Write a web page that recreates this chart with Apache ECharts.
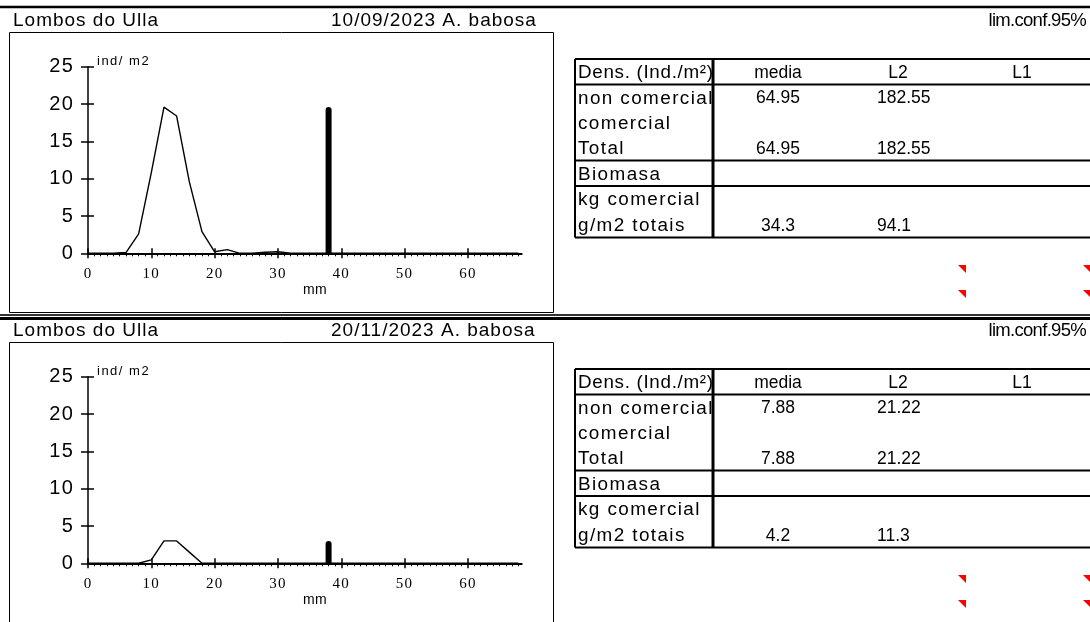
<!DOCTYPE html>
<html>
<head>
<meta charset="utf-8">
<title>Lombos do Ulla - A. babosa</title>
<script src="https://cdn.jsdelivr.net/npm/echarts@6/dist/echarts.min.js"></script>
<style>
  html, body { margin: 0; padding: 0; background: #fff; }
  #chart { width: 1090px; height: 622px; }
</style>
</head>
<body>
<div id="chart"></div>
<script>
// Size classes (mm)
const sizes = [0, 2, 4, 6, 8, 10, 12, 14, 16, 18, 20, 22, 24, 26, 28, 30, 32, 34,
               36, 38, 40, 42, 44, 46, 48, 50, 52, 54, 56, 58, 60, 62, 64, 66, 68];

// Density per size class (ind/m2)
const densSep = [0, 0, 0, 0.1, 2.6, 10.8, 19.6, 18.4, 9.6, 2.9, 0.2, 0.5, 0, 0, 0.15, 0.2, 0, 0,
                 0, 0, 0, 0, 0, 0, 0, 0, 0, 0, 0, 0, 0, 0, 0, 0, 0];
const densNov = [0, 0, 0, 0, 0, 0.45, 3.0, 3.0, 1.5, 0, 0, 0, 0, 0, 0, 0, 0, 0,
                 0, 0, 0, 0, 0, 0, 0, 0, 0, 0, 0, 0, 0, 0, 0, 0, 0];

// Commercial size mark
const commercialSize = 38;
const markSep = 19.6;
const markNov = 3.0;

// Axis ticks
const xTicks = [0, 10, 20, 30, 40, 50, 60];
const yTicks = [0, 5, 10, 15, 20, 25];

// Summary table
const headerCols = ['media', 'L2', 'L1'];
const rowLabels = ['Dens. (Ind./m²)', 'non comercial', 'comercial', 'Total', 'Biomasa', 'kg comercial', 'g/m2 totais'];
const mediaSep = [null, 64.95, null, 64.95, null, null, 34.3];
const l2Sep    = [null, 182.55, null, 182.55, null, null, 94.1];
const mediaNov = [null, 7.88, null, 7.88, null, null, 4.2];
const l2Nov    = [null, 21.22, null, 21.22, null, null, 11.3];

const panelTitles = ['Lombos do Ulla', 'Lombos do Ulla'];
const panelDates = ['10/09/2023 A. babosa', '20/11/2023 A. babosa'];
const confLabel = 'lim.conf.95%';

const SANS = 'Liberation Sans, Arial, sans-serif';
const SERIF = 'Liberation Serif, Times New Roman, serif';
const PANEL_STEP = 310;

// Text classes: font size (px) -> extra tracking between glyphs (px)
const FS_TITLE = 19, FS_CONF = 18.5, FS_LABEL = 18.9, FS_HEAD = 18.8, FS_NUM = 17.5,
      FS_YLAB = 20, FS_XLAB = 15, FS_UNIT = 13, FS_MM = 14;
const TRACKING = {};
TRACKING[FS_TITLE] = 1; TRACKING[FS_CONF] = -0.7; TRACKING[FS_LABEL] = 1.4; TRACKING[FS_HEAD] = 0.7;
TRACKING[FS_NUM] = 0; TRACKING[FS_YLAB] = 1.2; TRACKING[FS_XLAB] = 1.2; TRACKING[FS_UNIT] = 1.5;
TRACKING[FS_MM] = 0.3;

(function () {
  const proto = CanvasRenderingContext2D.prototype;
  const fill = proto.fillText;
  proto.fillText = function (text, x, y, maxWidth) {
    if ('letterSpacing' in this) {
      const m = /(\d+(?:\.\d+)?)px/.exec(this.font);
      const t = m ? TRACKING[parseFloat(m[1])] : 0;
      this.letterSpacing = (t || 0) + 'px';
    }
    return maxWidth === undefined ? fill.call(this, text, x, y) : fill.call(this, text, x, y, maxWidth);
  };
})();

function txt(x, y, s, size, align, family) {
  return {
    type: 'text', x: x, y: y, silent: true, z: 10,
    style: {
      text: s, fill: '#000', fontSize: size, fontFamily: family || SANS,
      textAlign: align || 'left', textVerticalAlign: 'middle', verticalAlign: 'middle'
    }
  };
}
function seg(x1, y1, x2, y2, w, color) {
  return {
    type: 'line', silent: true, z: 20,
    shape: { x1: x1, y1: y1, x2: x2, y2: y2 },
    style: { stroke: color || '#000', lineWidth: w }
  };
}
function corner(x, y) {
  return {
    type: 'polygon', silent: true,
    shape: { points: [[x, y], [x + 8, y], [x + 8, y + 8]] },
    style: { fill: '#ff0000' }
  };
}

function panelGraphic(p, media, l2) {
  const o = p * PANEL_STEP;
  const g = [];
  // header strip
  g.push(txt(13, 20.5 + o, panelTitles[p], FS_TITLE));
  g.push(txt(331, 20.5 + o, panelDates[p], FS_TITLE));
  g.push(txt(1086, 20.5 + o, confLabel, FS_CONF, 'right'));
  // chart frame
  g.push({
    type: 'rect', silent: true,
    shape: { x: 9.5, y: 32.5 + o, width: 544, height: 280 },
    style: { fill: 'none', stroke: '#000', lineWidth: 1 }
  });
  // axis captions
  g.push(txt(97, 61 + o, 'ind/ m2', FS_UNIT));
  g.push(txt(315, 290 + o, 'mm', FS_MM, 'center'));

  // summary table
  const rows = [59, 84.4, 109.8, 135.2, 160.6, 186, 211.4, 237.5].map(v => v + o);
  const left = 575, split = 713, right = 1092;
  g.push(seg(left, rows[0], right, rows[0], 2));
  g.push(seg(left, rows[1], right, rows[1], 2));
  g.push(seg(left, rows[4], right, rows[4], 2));
  g.push(seg(left, rows[5], right, rows[5], 2));
  g.push(seg(left, rows[7], right, rows[7], 2));
  g.push(seg(left, rows[0], left, rows[7], 2));
  g.push(seg(split, rows[0], split, rows[7], 3));
  // the first header cell is clipped at the column divider
  g.push({
    type: 'rect', silent: true, z: 15,
    shape: { x: split, y: rows[0] + 1, width: 30, height: rows[1] - rows[0] - 2 },
    style: { fill: '#fff' }
  });
  rowLabels.forEach((lab, k) => {
    const cy = rows[k + 1] - 11.5;
    g.push(txt(578, cy, lab, k === 0 ? FS_HEAD : FS_LABEL));
    if (media[k] != null) g.push(txt(778, cy, String(media[k]), FS_NUM, 'center'));
    if (l2[k] != null) g.push(txt(877, cy, String(l2[k]), FS_NUM, 'left'));
  });
  const hy = rows[1] - 11.5;
  const head = [txt(778, hy, headerCols[0], FS_NUM, 'center'),
                txt(898, hy, headerCols[1], FS_NUM, 'center'),
                txt(1022, hy, headerCols[2], FS_NUM, 'center')];
  head.forEach(h => { h.z = 16; g.push(h); });

  // cell comment indicators
  g.push(corner(958, 265 + o), corner(958, 290 + o), corner(1083, 265 + o), corner(1083, 290 + o));
  return g;
}

const graphic = [
  seg(0, 7, 1090, 7, 2.5),
  seg(0, 315, 1090, 315, 2, '#333'),
  seg(0, 318.5, 1090, 318.5, 3)
].concat(panelGraphic(0, mediaSep, l2Sep), panelGraphic(1, mediaNov, l2Nov));

const grids = [], xAxes = [], yAxes = [], series = [];
[densSep, densNov].forEach((dens, i) => {
  grids.push({ left: 88, top: 66.8 + i * PANEL_STEP, width: 433.7, height: 186.5 });
  // outer x axis: line, labels, lower half of ticks, mm ticks
  xAxes.push({
    type: 'value', gridIndex: i, min: 0, max: 68.5, interval: 10, position: 'bottom',
    axisLine: { show: true, onZero: false, lineStyle: { color: '#000', width: 2 } },
    axisTick: { show: true, customValues: xTicks, length: 5, lineStyle: { color: '#000', width: 1.5 } },
    minorTick: { show: true, splitNumber: 10, length: 3, lineStyle: { color: '#000', width: 1 } },
    axisLabel: { customValues: xTicks, margin: 13, color: '#000', fontFamily: SERIF, fontSize: FS_XLAB },
    splitLine: { show: false }, minorSplitLine: { show: false }
  });
  // inner x axis: upper half of the major ticks
  xAxes.push({
    type: 'value', gridIndex: i, min: 0, max: 68.5, interval: 10, position: 'bottom',
    axisLine: { show: false, onZero: false },
    axisTick: { show: true, inside: true, customValues: xTicks, length: 5, lineStyle: { color: '#000', width: 1.5 } },
    axisLabel: { show: false }, splitLine: { show: false }
  });
  yAxes.push({
    type: 'value', gridIndex: i, min: 0, max: 25, interval: 5, position: 'left',
    axisLine: { show: true, onZero: false, lineStyle: { color: '#000', width: 1.5 } },
    axisTick: { show: true, length: 7, lineStyle: { color: '#000', width: 1.5 } },
    axisLabel: { customValues: yTicks, margin: 14, color: '#000', fontFamily: SANS, fontSize: FS_YLAB },
    splitLine: { show: false }
  });
  yAxes.push({
    type: 'value', gridIndex: i, min: 0, max: 25, interval: 5, position: 'left',
    axisLine: { show: false, onZero: false },
    axisTick: { show: true, inside: true, length: 6, lineStyle: { color: '#000', width: 1.5 } },
    axisLabel: { show: false }, splitLine: { show: false }
  });
  series.push({
    type: 'line', xAxisIndex: 2 * i, yAxisIndex: 2 * i,
    data: sizes.map((s, k) => [s, dens[k]]),
    showSymbol: false, symbol: 'none', silent: true,
    lineStyle: { color: '#000', width: 1.4 }, z: 3
  });
  series.push({
    type: 'bar', xAxisIndex: 2 * i, yAxisIndex: 2 * i,
    data: [[commercialSize, i === 0 ? markSep : markNov]],
    barWidth: 6, silent: true,
    itemStyle: { color: '#000', borderRadius: [3, 3, 0, 0] }, z: 4
  });
});

const chart = echarts.init(document.getElementById('chart'), null, { renderer: 'canvas' });
chart.setOption({
  animation: false,
  backgroundColor: '#fff',
  grid: grids,
  xAxis: xAxes,
  yAxis: yAxes,
  series: series,
  graphic: graphic
});
</script>
</body>
</html>
